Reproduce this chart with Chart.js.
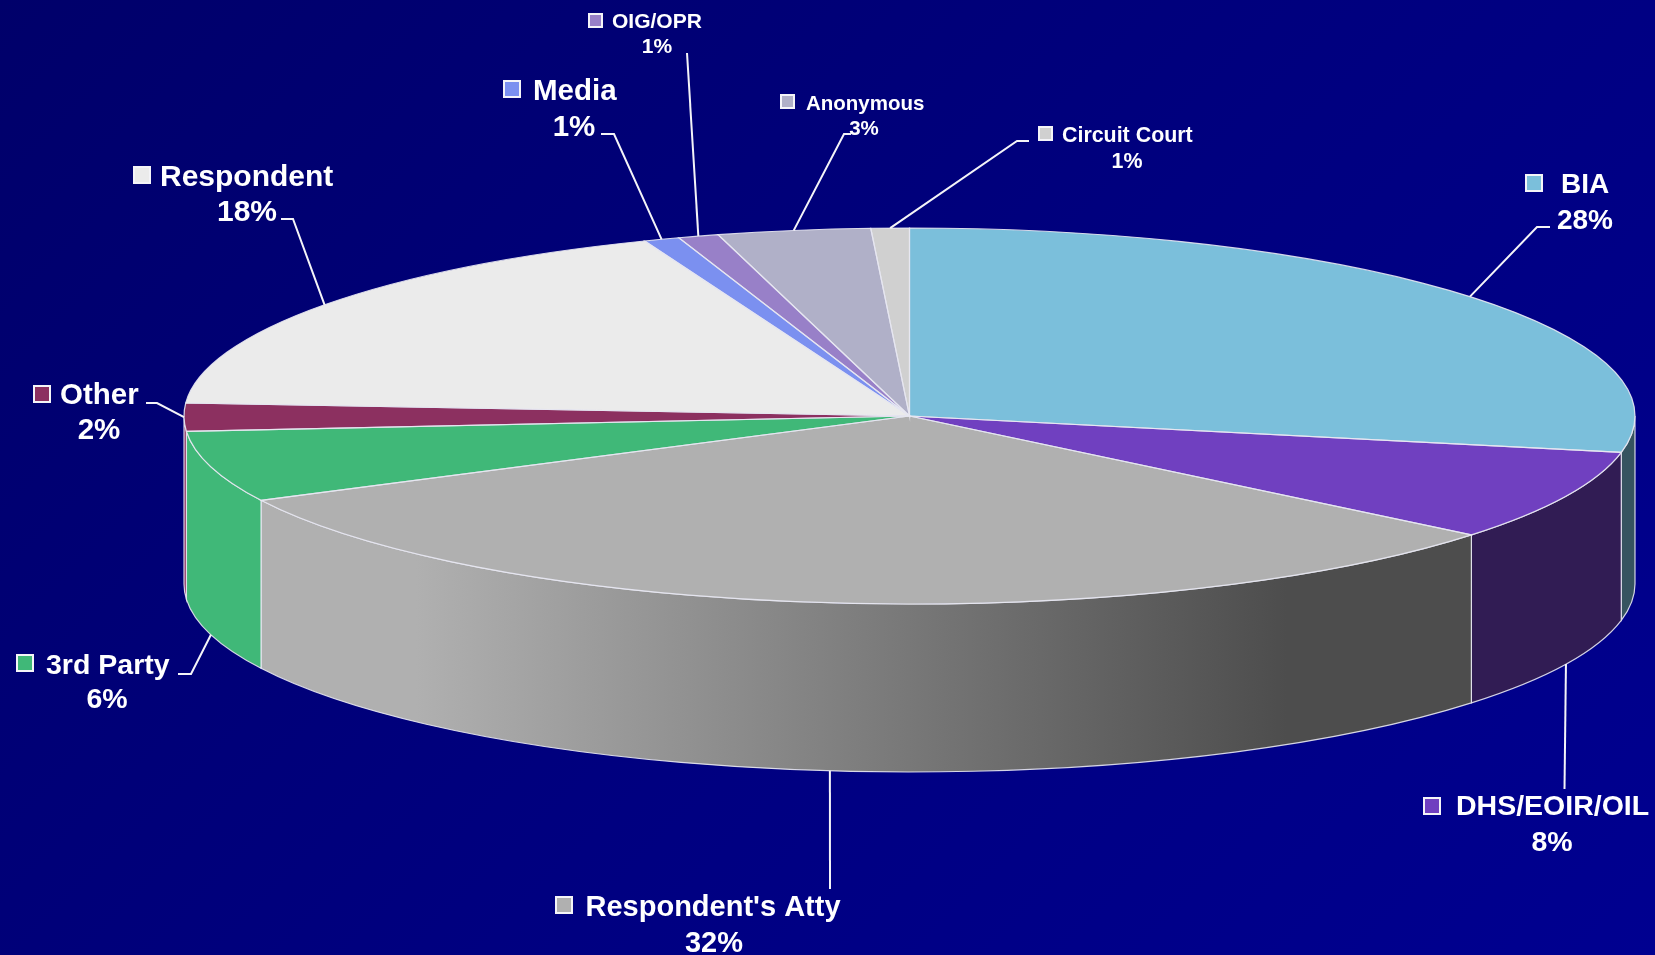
<!DOCTYPE html>
<html>
<head>
<meta charset="utf-8">
<title>Complaint sources</title>
<script src="https://cdn.jsdelivr.net/npm/chart.js@4"></script>
<style>
  html, body { margin: 0; padding: 0; width: 1655px; height: 955px; overflow: hidden; }
  body { background: linear-gradient(135deg, #00006a 0%, #000080 55%, #000090 100%); }
  canvas { display: block; filter: blur(0.5px); }
</style>
</head>
<body>
<canvas id="pie" width="1655" height="955"></canvas>
<script>
// Data, clockwise from 12 o'clock
const categories = ['BIA', 'DHS/EOIR/OIL', "Respondent's Atty", '3rd Party', 'Other', 'Respondent', 'Media', 'OIG/OPR', 'Anonymous', 'Circuit Court'];
const shares = [28.1, 7.8, 31.7, 6.1, 2.4, 17.95, 0.8, 0.9, 3.4, 0.85];
const percentLabels = ['28%', '8%', '32%', '6%', '2%', '18%', '1%', '1%', '3%', '1%'];
const sliceColors = ['#7bbfdb', '#7040c0', '#b0b0b0', '#40b878', '#8c3060', '#ebebeb', '#7b90f0', '#9880c8', '#b0b0c8', '#d0d0d0'];

// Pie geometry on the page
const centerX = 909.5;
const centerY = 416;
const radiusX = 725.5;
const radiusY = 188;
const depth = 168;
const baseRadius = 400;

// Label placement, same order as categories
// sw = swatch left/top, name = left/baseline, pct = centre/baseline, lead = leader points from the text side
const labelLayout = [
  { size: 28, sw: [1526, 175], name: [1561, 193], pct: [1585, 229], lead: [[1550, 227], [1537, 227]] },
  { size: 28.5, sw: [1424, 798], name: [1456, 815], pct: [1552, 851], lead: [[1564.5, 789]] },
  { size: 29, sw: [556, 897], name: [585.5, 916], pct: [714, 952], lead: [[830, 889]] },
  { size: 28.5, sw: [17, 655], name: [46, 674], pct: [107, 708], lead: [[178, 674], [191, 674]] },
  { size: 29.5, sw: [34, 386], name: [60, 404], pct: [99, 439], lead: [[146, 403], [157, 403]] },
  { size: 30, sw: [134, 167], name: [160, 186], pct: [247, 221], lead: [[281, 219], [293, 219]] },
  { size: 29.5, sw: [504, 81], name: [533, 100], pct: [574, 136], lead: [[601, 134], [614, 134]] },
  { size: 21, sw: [589, 14], name: [612, 28], pct: [657, 53], lead: [[687, 53]] },
  { size: 20.5, sw: [781, 95], name: [806, 110], pct: [864, 135], lead: [[851, 134], [844, 134]] },
  { size: 21.4, sw: [1039, 127], name: [1062, 142], pct: [1127, 168], lead: [[1029, 141], [1017, 141]] }
];

const edgeColor = 'rgba(232, 232, 242, 0.9)';
const textColor = '#ffffff';

// Walls get lighter to the left, darker to the right
function wallGradient(ctx, color) {
  const r = parseInt(color.slice(1, 3), 16);
  const g = parseInt(color.slice(3, 5), 16);
  const b = parseInt(color.slice(5, 7), 16);
  const shade = (f) => `rgb(${Math.round(r * f)}, ${Math.round(g * f)}, ${Math.round(b * f)})`;
  const grad = ctx.createLinearGradient(centerX - radiusX, 0, centerX + radiusX, 0);
  grad.addColorStop(0, shade(1));
  grad.addColorStop(0.16, shade(1));
  grad.addColorStop(0.76, shade(0.44));
  grad.addColorStop(1, shade(0.44));
  return grad;
}

function rimPoint(angle) {
  return [centerX + radiusX * Math.cos(angle), centerY + radiusY * Math.sin(angle)];
}

const pie3d = {
  id: 'pie3d',
  // Side walls first, the library draws the top face over them
  beforeDatasetsDraw(chart) {
    const ctx = chart.ctx;
    const arcs = chart.getDatasetMeta(0).data;
    arcs.forEach((arc, i) => {
      const a0 = Math.max(arc.startAngle, 0);
      const a1 = Math.min(arc.endAngle, Math.PI);
      if (a1 <= a0) return;
      ctx.beginPath();
      ctx.ellipse(centerX, centerY, radiusX, radiusY, 0, a0, a1);
      ctx.ellipse(centerX, centerY + depth, radiusX, radiusY, 0, a1, a0, true);
      ctx.closePath();
      ctx.fillStyle = wallGradient(ctx, sliceColors[i]);
      ctx.fill();
      ctx.strokeStyle = edgeColor;
      ctx.lineWidth = 1.2;
      ctx.stroke();
    });
    // Squash the round pie into the ellipse
    ctx.save();
    ctx.translate(centerX, centerY);
    ctx.scale(radiusX / baseRadius, radiusY / baseRadius);
    ctx.translate(-arcs[0].x, -arcs[0].y);
  },
  afterDatasetsDraw(chart) {
    const ctx = chart.ctx;
    ctx.restore();
    const arcs = chart.getDatasetMeta(0).data;

    // Slice outlines
    arcs.forEach((arc) => {
      ctx.beginPath();
      ctx.moveTo(centerX, centerY);
      ctx.ellipse(centerX, centerY, radiusX, radiusY, 0, arc.startAngle, arc.endAngle);
      ctx.closePath();
      ctx.strokeStyle = edgeColor;
      ctx.lineWidth = 1.2;
      ctx.stroke();
    });

    arcs.forEach((arc, i) => {
      const layout = labelLayout[i];
      const mid = (arc.startAngle + arc.endAngle) / 2;
      const p = rimPoint(mid);
      if (Math.sin(mid) > 0.05) p[1] += depth;

      // Leader line
      ctx.beginPath();
      layout.lead.forEach((pt, k) => {
        if (k === 0) ctx.moveTo(pt[0], pt[1]);
        else ctx.lineTo(pt[0], pt[1]);
      });
      ctx.lineTo(p[0], p[1]);
      ctx.strokeStyle = '#f4f4f8';
      ctx.lineWidth = 2;
      ctx.stroke();

      // Legend key
      const key = layout.size < 25 ? 13 : 16;
      ctx.fillStyle = sliceColors[i];
      ctx.fillRect(layout.sw[0], layout.sw[1], key, key);
      ctx.strokeStyle = '#f4f4f8';
      ctx.lineWidth = 2;
      ctx.strokeRect(layout.sw[0], layout.sw[1], key, key);

      // Name and percent
      ctx.fillStyle = textColor;
      ctx.font = `bold ${layout.size}px "Liberation Sans", Arial, sans-serif`;
      ctx.textBaseline = 'alphabetic';
      ctx.textAlign = 'left';
      ctx.fillText(categories[i], layout.name[0], layout.name[1]);
      ctx.textAlign = 'center';
      ctx.fillText(percentLabels[i], layout.pct[0], layout.pct[1]);
    });
  }
};

new Chart(document.getElementById('pie'), {
  type: 'pie',
  data: {
    labels: categories,
    datasets: [{
      data: shares,
      backgroundColor: sliceColors,
      borderWidth: 0,
      radius: baseRadius,
      clip: false
    }]
  },
  options: {
    responsive: false,
    animation: false,
    plugins: {
      legend: { display: false },
      tooltip: { enabled: false }
    }
  },
  plugins: [pie3d]
});
</script>
</body>
</html>
